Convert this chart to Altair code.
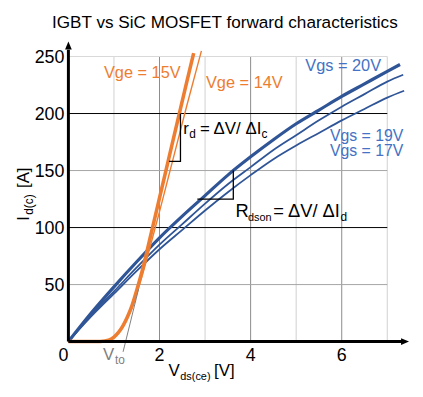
import altair as alt
import pandas as pd

FONT = "Liberation Sans"
ORANGE = "#ED7D31"
BLUE = "#2F5597"
LBLUE = "#4472C4"
GRAY = "#7F7F7F"

# ---- data ----
mos_vds_20 = [0, 0.5, 1.0, 1.5, 2.0, 2.5, 3.0, 3.5, 4.0, 4.5, 5.0, 5.5, 6.0, 6.5, 7.0, 7.28]
mos_id_20 = [0, 25, 48, 70, 91, 110, 128, 146, 162, 177, 191, 203, 215, 226, 237, 243]
mos_vds_19 = [0, 0.5, 1.0, 1.5, 2.0, 2.5, 3.0, 3.5, 4.0, 4.5, 5.0, 5.5, 6.0, 6.5, 7.0, 7.35]
mos_id_19 = [0, 23.5, 44, 65, 85, 103, 121, 138, 153, 168, 181, 194, 206, 217, 228, 234]
mos_vds_17 = [0, 0.5, 1.0, 1.5, 2.0, 2.5, 3.0, 3.5, 4.0, 4.5, 5.0, 5.5, 6.0, 6.5, 7.0, 7.37]
mos_id_17 = [0, 22, 42, 62, 81, 98, 115, 131, 146, 160, 172, 183, 194, 204, 214, 220]

igbt_vce_15 = [0, 0.6, 0.8, 0.9, 1.0, 1.1, 1.2, 1.3, 1.4, 1.5, 1.6, 1.7, 1.8, 1.9, 2.0, 2.2, 2.4, 2.6, 2.75]
igbt_ic_15 = [0, 0, 0.5, 1.5, 4, 8, 14, 22, 32, 45, 59, 75, 92, 109, 126, 160, 194, 228, 253]
igbt_vce_14 = [0, 0.6, 0.8, 0.9, 1.0, 1.1, 1.2, 1.3, 1.4, 1.5, 1.6, 1.7, 1.8, 1.9, 2.0, 2.2, 2.4, 2.6, 2.8, 2.92]
igbt_ic_14 = [0, 0, 0.5, 1.5, 4, 8, 13.5, 21, 30, 42, 55, 69, 84, 99, 114, 145, 176, 207, 237, 255]

# tangent for threshold voltage
vto_line_v = [1.20, 1.54]
vto_line_i = [-9, 46]

# slope triangles
rd_tri_v = [2.21, 2.46, 2.46]
rd_tri_i = [158, 158, 200]
rds_tri_v = [2.83, 3.62, 3.62]
rds_tri_i = [125, 125, 150]

x_tick_first = [0]
x_ticks = [2, 4, 6]
y_ticks = [50, 100, 150, 200, 250]
vgrid_major = [2, 4, 6]
vgrid_minor = [1, 3, 5, 7]
hgrid_dark = [100, 200]
hgrid_mid = [50, 150]
hgrid_light = [250]
grid_x_end = 7
grid_y_end = 250
x_axis_end = 7.33
y_axis_end = 256
x_arrow = 7.39
y_arrow = 259.7

xs = alt.Scale(domain=[0, 7.5], nice=False, zero=False)
ys = alt.Scale(domain=[0, 264], nice=False, zero=False)

ONE = pd.DataFrame({"k": [0]})


def X(f):
    return alt.X(f, type="quantitative", scale=xs, axis=None)


def Y(f):
    return alt.Y(f, type="quantitative", scale=ys, axis=None)


layers = []


# grid
def vgrid(vals, color):
    df = pd.DataFrame({"x": vals, "y0": [0] * len(vals), "y1": [grid_y_end] * len(vals)})
    return alt.Chart(df).mark_rule(color=color, strokeWidth=1).encode(x=X("x"), y=Y("y0"), y2="y1")


def hgrid(vals, color):
    df = pd.DataFrame({"y": vals, "x0": [0] * len(vals), "x1": [grid_x_end] * len(vals)})
    return alt.Chart(df).mark_rule(color=color, strokeWidth=1).encode(y=Y("y"), x=X("x0"), x2="x1")


layers += [vgrid(vgrid_minor, "#D0D0D0"), vgrid(vgrid_major, "#8C8C8C"),
           hgrid(hgrid_light, "#D9D9D9"), hgrid(hgrid_mid, "#A6A6A6"), hgrid(hgrid_dark, "#000000")]

# tick labels
layers.append(alt.Chart(pd.DataFrame({"x": x_tick_first, "y": [0] * len(x_tick_first)})).mark_text(
    font=FONT, fontSize=18, color="black", align="right", baseline="alphabetic", dy=20)
    .encode(x=X("x"), y=Y("y"), text=alt.Text("x:Q")))
layers.append(alt.Chart(pd.DataFrame({"x": x_ticks, "y": [0] * len(x_ticks)})).mark_text(
    font=FONT, fontSize=18, color="black", align="center", baseline="alphabetic", dy=20)
    .encode(x=X("x"), y=Y("y"), text=alt.Text("x:Q")))
layers.append(alt.Chart(pd.DataFrame({"y": y_ticks, "x": [0] * len(y_ticks)})).mark_text(
    font=FONT, fontSize=18, color="black", align="right", baseline="alphabetic", dx=-4, dy=6.5)
    .encode(x=X("x"), y=Y("y"), text=alt.Text("y:Q")))

# curves
series = [
    (mos_vds_17, mos_id_17, BLUE, 1.8),
    (mos_vds_19, mos_id_19, BLUE, 1.8),
    (mos_vds_20, mos_id_20, BLUE, 3.2),
    (igbt_vce_14, igbt_ic_14, ORANGE, 1.4),
    (igbt_vce_15, igbt_ic_15, ORANGE, 3.6),
]
for xv, yv, c, w in series:
    df = pd.DataFrame({"v": xv, "i": yv})
    layers.append(alt.Chart(df).mark_line(color=c, strokeWidth=w, interpolate="monotone").encode(x=X("v"), y=Y("i")))

# Vto tangent
layers.append(alt.Chart(pd.DataFrame({"v": vto_line_v, "i": vto_line_i})).mark_line(color=GRAY, strokeWidth=1)
              .encode(x=X("v"), y=Y("i")))

# triangles
for tv, ti in [(rd_tri_v, rd_tri_i), (rds_tri_v, rds_tri_i)]:
    df = pd.DataFrame({"v": tv, "i": ti, "o": list(range(len(tv)))})
    layers.append(alt.Chart(df).mark_line(color="black", strokeWidth=1.3).encode(x=X("v"), y=Y("i"), order="o:Q"))

# axis lines with arrows
layers.append(alt.Chart(pd.DataFrame({"x0": [0], "x1": [x_axis_end], "y": [0]})).mark_rule(color="black", strokeWidth=3)
              .encode(x=X("x0"), x2="x1", y=Y("y")))
layers.append(alt.Chart(pd.DataFrame({"x": [0], "y0": [0], "y1": [y_axis_end]})).mark_rule(color="black", strokeWidth=3)
              .encode(x=X("x"), y=Y("y0"), y2="y1"))
layers.append(alt.Chart(pd.DataFrame({"x": [x_arrow], "y": [0]})).mark_point(
    shape="M1,0L-1,-0.85L-1,0.85Z", filled=True, size=64, color="black", opacity=1, strokeWidth=0)
    .encode(x=X("x"), y=Y("y")))
layers.append(alt.Chart(pd.DataFrame({"x": [0], "y": [y_arrow]})).mark_point(
    shape="M0,-1L0.85,1L-0.85,1Z", filled=True, size=64, color="black", opacity=1, strokeWidth=0)
    .encode(x=X("x"), y=Y("y")))


# text annotations
def txt(s, x, y, size=17, color="black", dx=0, dy=0, angle=0, align="left"):
    return alt.Chart(ONE).mark_text(text=s, font=FONT, fontSize=size, color=color, align=align,
                                    baseline="alphabetic", dx=dx, dy=dy, angle=angle).encode(
        x=alt.XDatum(x, type="quantitative", scale=xs, axis=None),
        y=alt.YDatum(y, type="quantitative", scale=ys, axis=None))


layers += [
    txt("IGBT vs SiC MOSFET forward characteristics", 3.435, 275.3, size=17.3, align="center"),
    txt("Vge = 15V", 0.78, 231, size=16.5, color=ORANGE),
    txt("Vge = 14V", 3.02, 222, size=16.5, color=ORANGE),
    txt("Vgs = 20V", 5.2, 237, size=16.5, color=LBLUE),
    txt("Vgs = 19V", 5.74, 176.3, size=16, color=LBLUE),
    txt("Vgs = 17V", 5.74, 162.4, size=16, color=LBLUE),
    # r_d = dV/dIc
    txt("r", 2.52, 182),
    txt("d", 2.52, 182, size=12, dx=6, dy=4),
    txt("= ΔV/ ΔI", 2.52, 182, dx=17),
    txt("c", 2.52, 182, size=12, dx=79, dy=4),
    # R_dson = dV/dId
    txt("R", 3.67, 109.4, size=18.5),
    txt("dson", 3.67, 109.4, size=11, dx=12.5, dy=4),
    txt("= ΔV/ ΔI", 3.67, 109.4, size=18.5, dx=38),
    txt("d", 3.67, 109.4, size=12, dx=106, dy=4),
    # Vto
    txt("V", 0.76, -16.5, color=GRAY),
    txt("to", 0.76, -16.5, size=12, color=GRAY, dx=12, dy=4),
    # x title
    txt("V", 2.196, -30.4),
    txt("ds(ce)", 2.196, -30.4, size=11, dx=12, dy=4),
    txt("[V]", 2.196, -30.4, dx=46),
    # y title
    txt("I", -0.87, 106, angle=270),
    txt("d(c)", -0.87, 106, size=12, angle=270, dx=6, dy=4),
    txt("[A]", -0.87, 106, angle=270, dx=33),
]

chart = alt.layer(*layers).properties(
    width=345, height=304,
    padding={"left": 61, "top": 31, "right": 5, "bottom": 45},
    autosize=alt.AutoSizeParams(type="none"),
).configure_view(stroke=None)

chart.save("out.html", embed_options={"renderer": "svg", "actions": False})
